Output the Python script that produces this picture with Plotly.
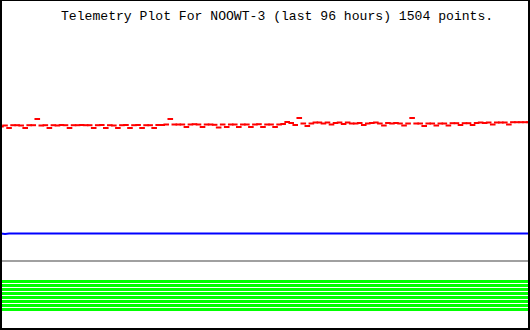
import numpy as np
import plotly.graph_objects as go

TITLE = "Telemetry Plot For NOOWT-3 (last 96 hours) 1504 points."

# channel 1 (red) – sampled readings across the 96 h window
red_values = [
    203.5, 204.5, 202, 204.8, 204.8, 204.5, 202, 204.8, 204.8, 211, 204.5,
    204.8, 202, 204.8, 204.5, 205, 204.8, 202, 204.8, 204.8, 205, 204.8,
    204.8, 202, 204.8, 205, 202, 204.8, 204.5, 202, 204.8, 205, 202,
    204.8, 205, 202, 204.8, 204.8, 202, 205, 205, 205.5, 211, 205.5,
    205.5, 205.5, 203, 205.5, 205.8, 205.5, 203, 205.5, 205.5, 205.2, 202.5,
    205.5, 203, 205.5, 205.5, 203, 205.5, 205.5, 203, 205.5, 205.8, 203,
    205.5, 205.5, 203, 205.5, 206, 208, 207, 205, 212, 206.5, 204,
    206.5, 207.5, 207.5, 206.5, 207.5, 205.5, 207, 207.5, 206, 207.5, 206.5,
    206.5, 207, 205, 206.5, 207, 207.5, 206.5, 204.5, 207, 206.5, 207,
    206.5, 204.5, 206.5, 212, 206.5, 206.5, 204, 206.5, 206.5, 204.5, 206.5,
    206.5, 204.5, 206.8, 206.8, 205, 206.8, 206.8, 205, 207, 207.5, 207,
    207.5, 205.5, 207.5, 207.5, 207.5, 205.5, 207.8, 207.8, 207.8, 207.8, 207.8,
]

# channel 2 (blue)
blue_values = [
    96.5, 96.0, 96.5, 96.5, 96.5, 96.0, 96.5, 96.5, 96.5, 96.5, 96.0,
    96.5, 96.5, 96.5, 96.5, 96.5, 96.5, 96.5, 96.5, 96.5, 96.5, 96.5,
    96.5, 96.5, 96.5, 96.5, 96.5, 96.5, 96.5, 96.5, 96.5, 96.5, 96.5,
    96.5, 96.5, 96.5, 96.5, 96.5, 96.5, 96.5, 96.5, 96.5, 96.5, 96.5,
    96.5, 96.5, 96.5, 96.5, 96.5, 96.5, 96.5, 96.5, 96.5, 96.5, 96.5,
    96.5, 96.5, 96.5, 96.5, 96.5, 96.5, 96.5, 96.5, 96.5, 96.5, 96.5,
    96.5, 96.5, 96.5, 96.5, 96.5, 96.5, 96.5, 96.5, 96.5, 96.5, 96.5,
    96.5, 96.5, 96.5, 96.5, 96.5, 96.5, 96.5, 96.5, 96.5, 96.5, 96.5,
    96.5, 96.5, 96.5, 96.5, 96.5, 96.5, 96.5, 96.5, 96.5, 96.5, 96.5,
    96.5, 96.5, 96.5, 96.5, 96.5, 96.5, 96.5, 96.5, 96.5, 96.5, 96.5,
    96.5, 96.5, 96.5, 96.5, 96.5, 96.5, 96.5, 96.5, 96.5, 96.5, 96.5,
    96.5, 96.5, 96.5, 96.5, 96.5, 96.5, 96.5, 96.5, 96.5, 96.0, 96.5,
]

# channel 3 (gray) and the digital channels (green) – flat levels
gray_level = 69.0
green_levels = [48.5, 44.5, 40.5, 36.5, 32.5, 28.5, 24.5, 20.5]

HOURS = 96
n = len(red_values)
t = np.linspace(0, HOURS, n)
t_span = [0, HOURS]

fig = go.Figure()

for lv in green_levels:
    fig.add_trace(go.Scatter(x=t_span, y=[lv, lv], mode="lines",
                             line=dict(color="#00FF00", width=3),
                             hoverinfo="skip", showlegend=False))

fig.add_trace(go.Scatter(x=t_span, y=[gray_level, gray_level], mode="lines",
                         line=dict(color="#A0A0A0", width=2),
                         showlegend=False))

fig.add_trace(go.Scatter(x=t, y=blue_values, mode="lines",
                         line=dict(color="#0000FF", width=2),
                         showlegend=False))

fig.add_trace(go.Scatter(x=t, y=red_values, mode="markers",
                         marker=dict(symbol="line-ew", size=4,
                                     line=dict(color="#FF0000", width=2)),
                         showlegend=False))

x0 = -1 * HOURS / 528
x1 = HOURS + 1 * HOURS / 528

fig.update_layout(
    width=530, height=330,
    margin=dict(l=0, r=0, t=0, b=0),
    paper_bgcolor="white", plot_bgcolor="white",
    xaxis=dict(range=[x0, x1], visible=False, fixedrange=True),
    yaxis=dict(range=[0, 330], visible=False, fixedrange=True),
    showlegend=False,
    annotations=[dict(
        text=TITLE, xref="paper", yref="paper",
        x=59 / 530, y=1 - 16.5 / 330, xanchor="left", yanchor="middle",
        showarrow=False,
        font=dict(family="Liberation Mono, DejaVu Sans Mono, monospace",
                  size=13.1, color="black"),
    )],
    shapes=[
        dict(type="line", xref="paper", yref="paper", x0=1 / 530, x1=1 / 530, y0=0, y1=1,
             line=dict(color="black", width=2)),
        dict(type="line", xref="paper", yref="paper", x0=529 / 530, x1=529 / 530, y0=0, y1=1,
             line=dict(color="black", width=2)),
        dict(type="line", xref="paper", yref="paper", x0=0, x1=1, y0=1 / 330, y1=1 / 330,
             line=dict(color="black", width=2)),
        dict(type="line", xref="paper", yref="paper", x0=0, x1=1, y0=1 - 0.5 / 330, y1=1 - 0.5 / 330,
             line=dict(color="black", width=1)),
    ],
)

fig.write_html("out.html", config={"displayModeBar": False})
